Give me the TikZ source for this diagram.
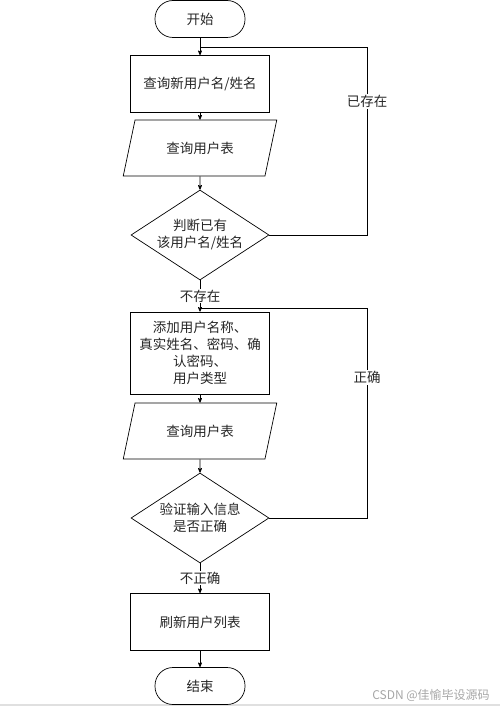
\documentclass[tikz,border=0pt]{standalone}
\usepackage{fontspec}
\setmainfont{Noto Sans CJK SC}
\usepackage{tikz}
\usetikzlibrary{arrows, shapes, positioning}

\tikzset{
	terminal/.style={draw, rounded corners=18pt, minimum width=90pt, minimum height=37pt, inner sep=0pt},
	process/.style={draw, rectangle, minimum width=139pt, minimum height=57pt, align=center, inner sep=0pt},
	iobox/.style={draw, trapezium, trapezium left angle=64, trapezium right angle=116, trapezium stretches=true, minimum width=154pt, minimum height=56pt, inner sep=0pt},
	decision/.style={draw, diamond, aspect=1.53, minimum width=138pt, minimum height=90pt, align=center, inner sep=0pt},
	tag/.style={fill=white, inner sep=1pt},
}

\begin{document}
\begin{tikzpicture}[x=1pt, y=-1pt, ->, >=stealth', line width=0.7pt, font=\fontsize{13.5}{17}\selectfont, text=black!85]
	\useasboundingbox (0,0) rectangle (500,706);
	\fill[black!12] (0,704) rectangle (500,706);

	\node[terminal] (start) at (200, 19) {开始};
	\node[process] (query) at (200, 84) {查询新用户名/姓名};
	\node[iobox] (table1) at (200, 148) {查询用户表};
	\node[decision] (exists) at (200, 235) {判断已有\\该用户名/姓名};
	\node[process, minimum height=82pt] (add) at (200, 353) {添加用户名称、\\真实姓名、密码、确\\认密码、\\用户类型};
	\node[iobox] (table2) at (200, 431) {查询用户表};
	\node[decision] (check) at (200, 518) {验证输入信息\\是否正确};
	\node[process] (refresh) at (200, 622) {刷新用户列表};
	\node[terminal] (stop) at (200, 686) {结束};

	\coordinate (join1) at (200, 47);
	\coordinate (join2) at (200, 308);

	\draw (start) -- (query);
	\draw (query) -- (table1);
	\draw (table1) -- (exists);
	\draw[-] (exists.east) -- (367, 235) -- node[tag, pos=0.71] {已存在} (367, 47) -- (join1);
	\draw (exists) -- node[tag, pos=0.5] {不存在} (add);
	\draw (add) -- (table2);
	\draw (table2) -- (check);
	\draw[-] (check.east) -- (367, 518) -- node[tag, pos=0.67] {正确} (367, 308) -- (join2);
	\draw (check) -- node[tag, pos=0.5] {不正确} (refresh);
	\draw (refresh) -- (stop);

	\node[text=black!35, font=\fontsize{12}{14}\selectfont] (mark) at (431, 695) {CSDN @佳愉毕设源码};
\end{tikzpicture}
\end{document}
